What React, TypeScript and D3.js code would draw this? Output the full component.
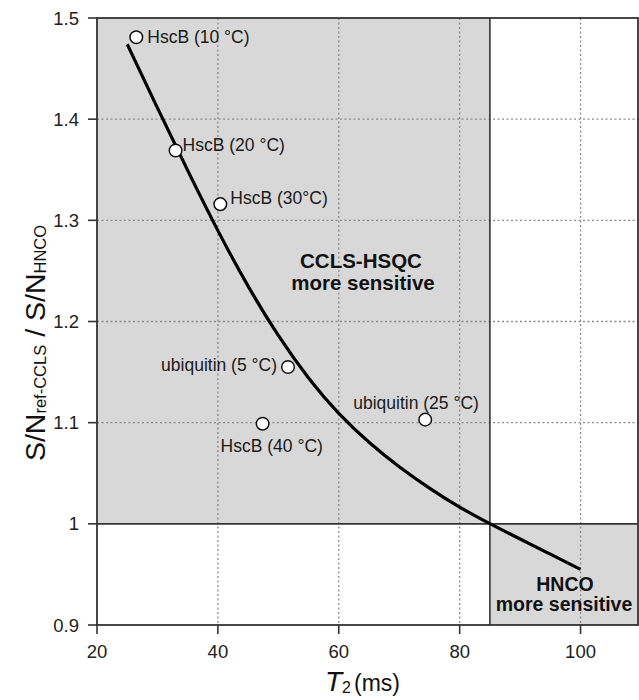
import React from "react";
import * as d3 from "d3";

// ---- data ----
const curveT2 = [25, 30, 35, 40, 45, 50, 55, 60, 65, 70, 75, 80, 85, 90, 95, 100];
const curveRatio = [1.474, 1.411, 1.349, 1.289, 1.234, 1.185, 1.143, 1.108, 1.08, 1.056, 1.035, 1.016, 1.0, 0.985, 0.97, 0.955];

const sampleNames = ["HscB (10 °C)", "HscB (20 °C)", "HscB (30°C)", "ubiquitin (5 °C)", "HscB (40 °C)", "ubiquitin (25 °C)"];
const sampleT2 = [26.5, 33.0, 40.4, 51.6, 47.4, 74.3];
const sampleRatio = [1.481, 1.369, 1.316, 1.155, 1.099, 1.103];

const xTicks = [20, 40, 60, 80, 100];
const yTicks = [0.9, 1, 1.1, 1.2, 1.3, 1.4, 1.5];
const xGrid = [40, 60, 80, 100];
const yGrid = [1.1, 1.2, 1.3, 1.4];
const thresholdT2 = 85;
const thresholdRatio = 1;

// label placement (pixel offsets relative to each point)
const labelOffsets: [number, number, string][] = [
  [11, 6, "start"],
  [7, 0, "start"],
  [10, 0, "start"],
  [-11, 4, "end"],
  [-42, 28, "start"],
  [-72, -11, "start"],
];

const W = 639;
const H = 700;
const FONT = "'Liberation Sans', Arial, Helvetica, sans-serif";

export default function App() {
  const x = d3.scaleLinear().domain([20, 110]).range([97, 641]);
  const y = d3.scaleLinear().domain([0.9, 1.5]).range([625, 18]);
  const left = x(20);
  const right = 638;
  const top = y(1.5);
  const bottom = y(0.9);
  const frame = "#333";
  const shade = "#d8d8d8";

  const line = d3
    .line<number>()
    .x((_, i) => x(curveT2[i]))
    .y((d) => y(d))
    .curve(d3.curveBasis);

  return (
    <svg
      width={W}
      height={H}
      style={{ position: "absolute", left: 0, top: 0, background: "#fff" }}
      fontFamily={FONT}
    >
      {/* shaded regions */}
      <rect x={left} y={top} width={x(thresholdT2) - left} height={y(thresholdRatio) - top} fill={shade} />
      <rect x={x(thresholdT2)} y={y(thresholdRatio)} width={right - x(thresholdT2)} height={bottom - y(thresholdRatio)} fill={shade} />

      {/* grid */}
      {xGrid.map((v) => (
        <line key={"gx" + v} x1={x(v)} x2={x(v)} y1={top} y2={bottom} stroke="#8a8a8a" strokeWidth={1.3} strokeDasharray="2,2.5" />
      ))}
      {yGrid.map((v) => (
        <line key={"gy" + v} x1={left} x2={right} y1={y(v)} y2={y(v)} stroke="#8a8a8a" strokeWidth={1.3} strokeDasharray="2,2.5" />
      ))}

      {/* threshold lines */}
      <line x1={x(thresholdT2)} x2={x(thresholdT2)} y1={top} y2={bottom} stroke={frame} strokeWidth={1.6} />
      <line x1={left} x2={right} y1={y(thresholdRatio)} y2={y(thresholdRatio)} stroke={frame} strokeWidth={1.6} />

      {/* frame */}
      <rect x={left} y={top} width={right - left} height={bottom - top} fill="none" stroke={frame} strokeWidth={1.8} />

      {/* ticks */}
      {yTicks.map((v) => (
        <g key={"yt" + v}>
          <line x1={left - 9} x2={left} y1={y(v)} y2={y(v)} stroke={frame} strokeWidth={1.6} />
          <text x={79} y={y(v)} dy="0.36em" textAnchor="end" fontSize={18.5} fill="#222">
            {String(v)}
          </text>
        </g>
      ))}
      {xTicks.map((v) => (
        <g key={"xt" + v}>
          <line x1={x(v)} x2={x(v)} y1={bottom} y2={bottom + 9} stroke={frame} strokeWidth={1.6} />
          <text x={x(v)} y={658} textAnchor="middle" fontSize={18.5} fill="#222">
            {String(v)}
          </text>
        </g>
      ))}

      {/* curve */}
      <path d={line(curveRatio) || ""} fill="none" stroke="#000" strokeWidth={3.2} strokeLinecap="butt" />

      {/* points */}
      {sampleT2.map((t, i) => (
        <circle key={"p" + i} cx={x(t)} cy={y(sampleRatio[i])} r={6.3} fill="#fff" stroke="#111" strokeWidth={1.5} />
      ))}
      {sampleNames.map((name, i) => (
        <text
          key={"l" + i}
          x={x(sampleT2[i]) + labelOffsets[i][0]}
          y={y(sampleRatio[i]) + labelOffsets[i][1]}
          textAnchor={labelOffsets[i][2] as any}
          fontSize={17.5}
          fill="#1a1a1a"
        >
          {name}
        </text>
      ))}

      {/* region annotations */}
      <text x={361} y={268} textAnchor="middle" fontSize={20.5} fontWeight="bold" fill="#111">CCLS-HSQC</text>
      <text x={363} y={290} textAnchor="middle" fontSize={20.5} fontWeight="bold" fill="#111">more sensitive</text>
      <text x={565} y={591} textAnchor="middle" fontSize={19.5} fontWeight="bold" fill="#111">HNCO</text>
      <text x={564} y={611} textAnchor="middle" fontSize={19.5} fontWeight="bold" fill="#111">more sensitive</text>

      {/* y axis label */}
      <text transform="translate(45,343) rotate(-90)" textAnchor="middle" fontSize={28.5} fill="#111">
        S/N<tspan fontSize={16.5} dy={1}>ref-CCLS</tspan>
        <tspan dy={-1}> / S/N</tspan>
        <tspan fontSize={16.5} dy={1}>HNCO</tspan>
      </text>

      {/* x axis label */}
      <text x={325} y={691} fontSize={28} fill="#111">
        <tspan fontStyle="italic">T</tspan>
        <tspan fontSize={16} dy={2}>2</tspan>
        <tspan fontSize={23} dy={-2} dx={3}>(ms)</tspan>
      </text>
    </svg>
  );
}
